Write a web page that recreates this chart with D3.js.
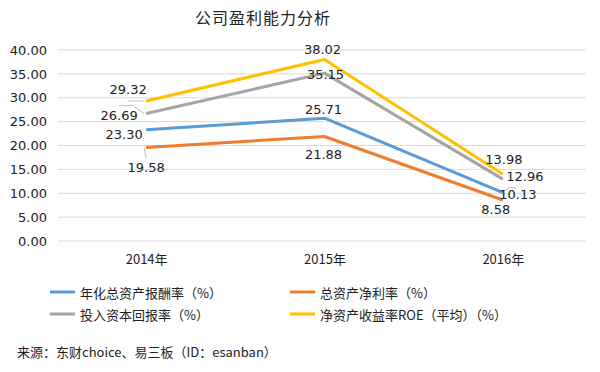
<!DOCTYPE html>
<html>
<head>
<meta charset="utf-8">
<script src="https://cdn.jsdelivr.net/npm/d3@7"></script>
<style>
  body { margin: 0; background: #fff; }
  text { font-family: "Noto Sans CJK SC", "DejaVu Sans", sans-serif; fill: #222; }
</style>
</head>
<body>
<script>
'use strict';

// chart data
const years = ['2014年', '2015年', '2016年'];
const seriesNames = ['年化总资产报酬率（%）', '总资产净利率（%）', '投入资本回报率（%）', '净资产收益率ROE（平均）（%）'];
const returnOnAssets = [23.30, 25.71, 10.13];
const netProfitOnAssets = [19.58, 21.88, 8.58];
const returnOnCapital = [26.69, 35.15, 12.96];
const roeAverage = [29.32, 38.02, 13.98];
const yTicks = [0, 5, 10, 15, 20, 25, 30, 35, 40];

const colors = ['#5B9BD5', '#ED7D31', '#A5A5A5', '#FFC000'];

// label nudges (dx, dy) per series per year, so labels don't pile on each other
const labelShift = [
  [[-22, 5], [-1, -9], [15, 2]],
  [[0, 20], [-1, 18], [-7, 9]],
  [[-27, 2], [1, 1], [22, -3]],
  [[-18, -11], [-2, -10], [1, -15]]
];

const width = 600, height = 372;
const svg = d3.select('body').append('svg')
  .attr('width', width)
  .attr('height', height);

const series = [returnOnAssets, netProfitOnAssets, returnOnCapital, roeAverage];

// scales
const x = d3.scalePoint().domain(years).range([57, 592]).padding(0.5);
const y = d3.scaleLinear().domain([0, 40]).range([241, 50]);

// title
svg.append('text')
  .attr('x', 263)
  .attr('y', 24)
  .attr('text-anchor', 'middle')
  .style('font-size', '16px')
  .style('letter-spacing', '1px')
  .text('公司盈利能力分析');

// grid lines
svg.append('g')
  .selectAll('line')
  .data(yTicks)
  .enter()
  .append('line')
  .attr('x1', 58)
  .attr('x2', 586)
  .attr('y1', d => y(d))
  .attr('y2', d => y(d))
  .attr('stroke', '#D9D9D9')
  .attr('stroke-width', 1);

// y axis labels
const yAxis = d3.axisLeft(y).tickValues(yTicks).tickSize(0).tickPadding(0)
  .tickFormat(d3.format('.2f'));
svg.append('g')
  .attr('transform', 'translate(47, 0)')
  .call(yAxis)
  .call(g => g.select('.domain').remove())
  .selectAll('text')
  .style('font-size', '13px')
  .style('fill', '#222')
  .style('font-family', '"DejaVu Sans", sans-serif');

// x axis labels
const xAxis = d3.axisBottom(x).tickSize(0).tickPadding(0);
svg.append('g')
  .attr('transform', 'translate(0, 255)')
  .call(xAxis)
  .call(g => g.select('.domain').remove())
  .selectAll('text')
  .style('font-size', '13px')
  .style('fill', '#222');

// lines
const line = d3.line()
  .x((d, i) => x(years[i]))
  .y(d => y(d));

series.forEach((vals, s) => {
  svg.append('path')
    .datum(vals)
    .attr('fill', 'none')
    .attr('stroke', colors[s])
    .attr('stroke-width', 3)
    .attr('stroke-linejoin', 'round')
    .attr('d', line);
});

// leader lines for a few labels pushed away from their point
const leaders = [[3, 0], [2, 0], [1, 0], [0, 2]];
leaders.forEach(([s, i]) => {
  const px = x(years[i]), py = y(series[s][i]);
  const lx = px + labelShift[s][i][0], ly = py + labelShift[s][i][1];
  let x1, y1;
  if (s === 3) { x1 = lx; y1 = py; }
  else if (s === 2) { x1 = lx; y1 = ly - 10; }
  else if (s === 1) { x1 = px; y1 = ly - 9; }
  else { x1 = lx - 2; y1 = ly - 7; }
  svg.append('path')
    .attr('d', `M${x1},${y1}L${(x1 + px) / 2},${y1}L${px - 2},${py}`)
    .attr('fill', 'none')
    .attr('stroke', '#BFBFBF')
    .attr('stroke-width', 1);
});

// data labels
series.forEach((vals, s) => {
  svg.append('g')
    .selectAll('text')
    .data(vals)
    .enter()
    .append('text')
    .attr('x', (d, i) => x(years[i]) + labelShift[s][i][0])
    .attr('y', (d, i) => y(d) + labelShift[s][i][1])
    .attr('text-anchor', 'middle')
    .attr('dominant-baseline', 'central')
    .style('font-size', '13px')
    .style('font-family', '"DejaVu Sans", sans-serif')
    .text(d => d.toFixed(2));
});

// legend
const legendPos = [[50, 292], [290, 292], [50, 314], [290, 314]];
seriesNames.forEach((name, s) => {
  const g = svg.append('g')
    .attr('transform', `translate(${legendPos[s][0]}, ${legendPos[s][1]})`);
  g.append('line')
    .attr('x1', 0).attr('x2', 25)
    .attr('y1', 0).attr('y2', 0)
    .attr('stroke', colors[s])
    .attr('stroke-width', 3);
  g.append('text')
    .attr('x', 30)
    .attr('y', 0)
    .attr('dominant-baseline', 'central')
    .style('font-size', '13px')
    .text(name);
});

// source note
svg.append('text')
  .attr('x', 17)
  .attr('y', 357)
  .style('font-size', '13px')
  .text('来源：东财choice、易三板（ID：esanban）');
</script>
</body>
</html>
